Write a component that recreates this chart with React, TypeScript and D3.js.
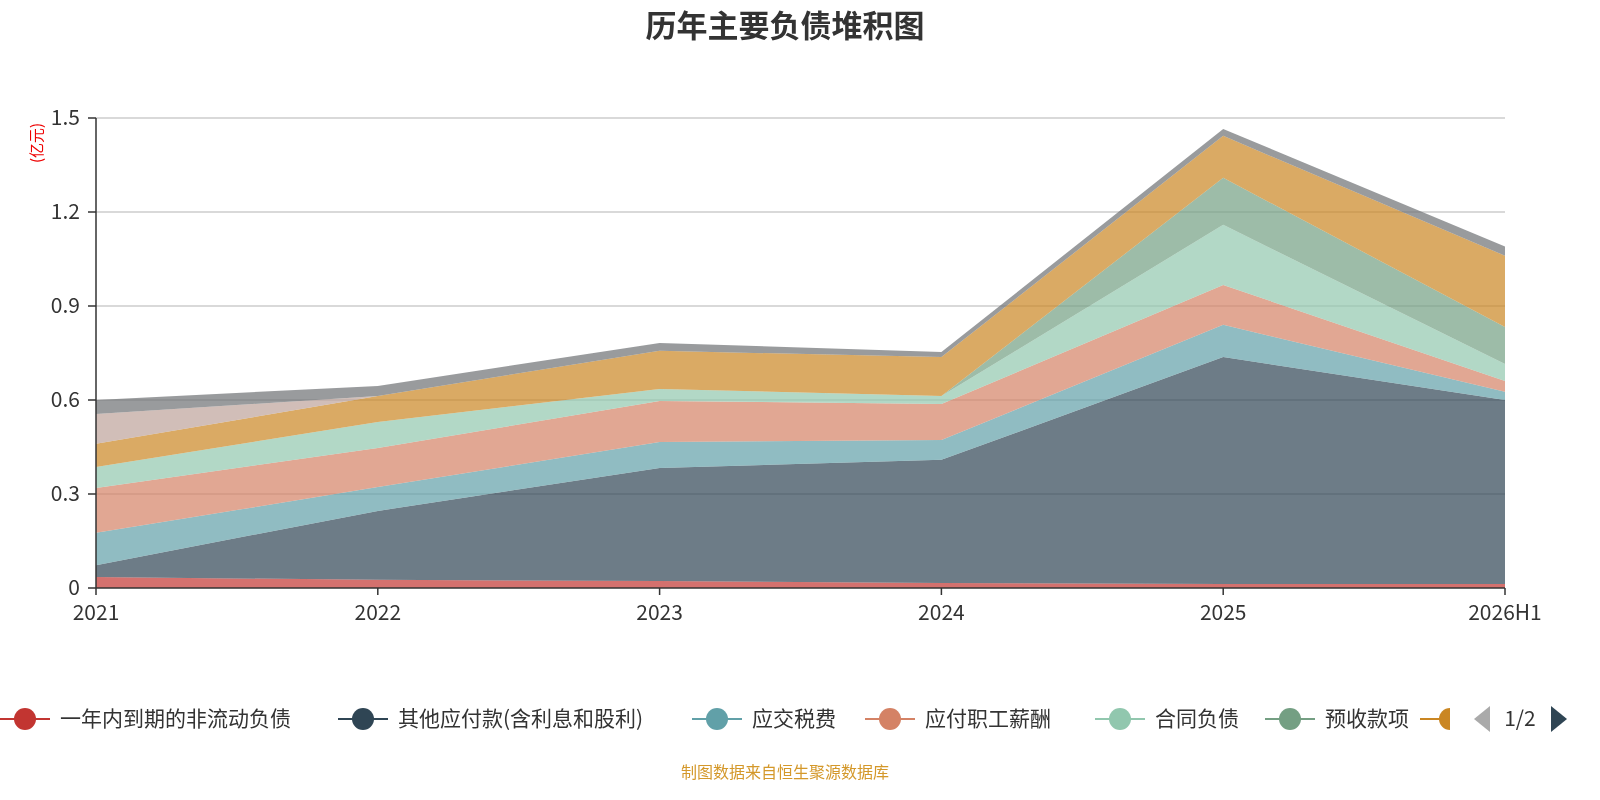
import * as d3 from "d3";

const years = ["2021", "2022", "2023", "2024", "2025", "2026H1"];
const seriesNames = ["一年内到期的非流动负债", "其他应付款(含利息和股利)", "应交税费", "应付职工薪酬", "合同负债", "预收款项", "应付账款", "短期借款", "其他"];
const colors = ["#c23531", "#2f4554", "#61a0a8", "#d48265", "#91c7ae", "#749f83", "#ca8622", "#bda29a", "#6e7074"];
const s0 = [0.035, 0.026, 0.022, 0.016, 0.013, 0.013];
const s1 = [0.038, 0.22, 0.361, 0.393, 0.724, 0.587];
const s2 = [0.103, 0.076, 0.083, 0.063, 0.103, 0.026];
const s3 = [0.143, 0.125, 0.131, 0.115, 0.127, 0.035];
const s4 = [0.067, 0.083, 0.038, 0.026, 0.192, 0.054];
const s5 = [0, 0, 0, 0, 0.15, 0.118];
const s6 = [0.074, 0.083, 0.122, 0.124, 0.134, 0.227];
const s7 = [0.095, 0, 0, 0, 0, 0];
const s8 = [0.045, 0.032, 0.025, 0.016, 0.022, 0.03];
const allSeries = [s0, s1, s2, s3, s4, s5, s6, s7, s8];
const yTicks = [0, 0.3, 0.6, 0.9, 1.2, 1.5];
const legendX = [25, 363, 717, 890, 1120, 1290, 1445];

export default function App() {
  const W = 1600, H = 800;
  const x = d3.scalePoint().domain(years).range([96, 1505]);
  const y = d3.scaleLinear().domain([0, 1.5]).range([588, 118]);
  const table = years.map((yr, i) => {
    const row: any = { year: yr };
    allSeries.forEach((s, k) => (row["k" + k] = s[i]));
    return row;
  });
  const stack = d3.stack<any>().keys(allSeries.map((_, k) => "k" + k))(table);
  const area = d3.area<any>().x((d) => x(d.data.year)!).y0((d) => y(d[0])).y1((d) => y(d[1]));
  const font = "'Noto Sans CJK SC', 'Noto Sans', sans-serif";

  return (
    <svg width={W} height={H} style={{ position: "fixed", left: 0, top: 0, fontFamily: font }}>
      <text x={785} y={37} textAnchor="middle" fontSize={31} fontWeight="bold" fill="#333">历年主要负债堆积图</text>
      <text transform="translate(42,143) rotate(-90)" textAnchor="middle" fontSize={15} fill="#e00">(亿元)</text>
      {yTicks.map((t) => (
        <g key={t}>
          {t > 0 && <line x1={96} x2={1505} y1={y(t)} y2={y(t)} stroke="#ccc" strokeWidth={1.5} />}
          <line x1={88} x2={96} y1={y(t)} y2={y(t)} stroke="#333" strokeWidth={1.5} />
          <text x={80} y={y(t)} dy="0.35em" textAnchor="end" fontSize={21} fill="#333">{t === 0 ? "0" : t.toFixed(1)}</text>
        </g>
      ))}
      {stack.map((layer, k) => (
        <path key={k} d={area(layer)!} fill={colors[k]} fillOpacity={0.7} />
      ))}
      <line x1={96} x2={96} y1={118} y2={588} stroke="#333" strokeWidth={1.5} />
      <line x1={96} x2={1505} y1={588} y2={588} stroke="#333" strokeWidth={1.5} />
      {years.map((yr) => (
        <g key={yr}>
          <line x1={x(yr)} x2={x(yr)} y1={588} y2={595} stroke="#333" strokeWidth={1.5} />
          <text x={x(yr)} y={620} textAnchor="middle" fontSize={21} fill="#333">{yr}</text>
        </g>
      ))}
      {legendX.map((cx, k) => (
        <g key={k}>
          <line x1={Math.max(0, cx - 25)} x2={Math.min(1450, cx + 25)} y1={719} y2={719} stroke={colors[k]} strokeWidth={2} />
          {cx + 11 < 1452 ? (
            <circle cx={cx} cy={719} r={11} fill={colors[k]} />
          ) : (
            <path d={`M1450,708 A11,11 0 0,0 1450,730 Z`} fill={colors[k]} />
          )}
          {cx < 1400 && (
            <text x={cx + 35} y={719} dy="0.35em" fontSize={21} fill="#333">{seriesNames[k]}</text>
          )}
        </g>
      ))}
      <path d="M1490,706 L1490,732 L1474,719 Z" fill="#aaa" />
      <text x={1520} y={719} dy="0.35em" textAnchor="middle" fontSize={21} fill="#333">1/2</text>
      <path d="M1551,706 L1551,732 L1567,719 Z" fill="#2f4554" />
      <text x={785} y={778} textAnchor="middle" fontSize={16} fill="#d4982a">制图数据来自恒生聚源数据库</text>
    </svg>
  );
}
